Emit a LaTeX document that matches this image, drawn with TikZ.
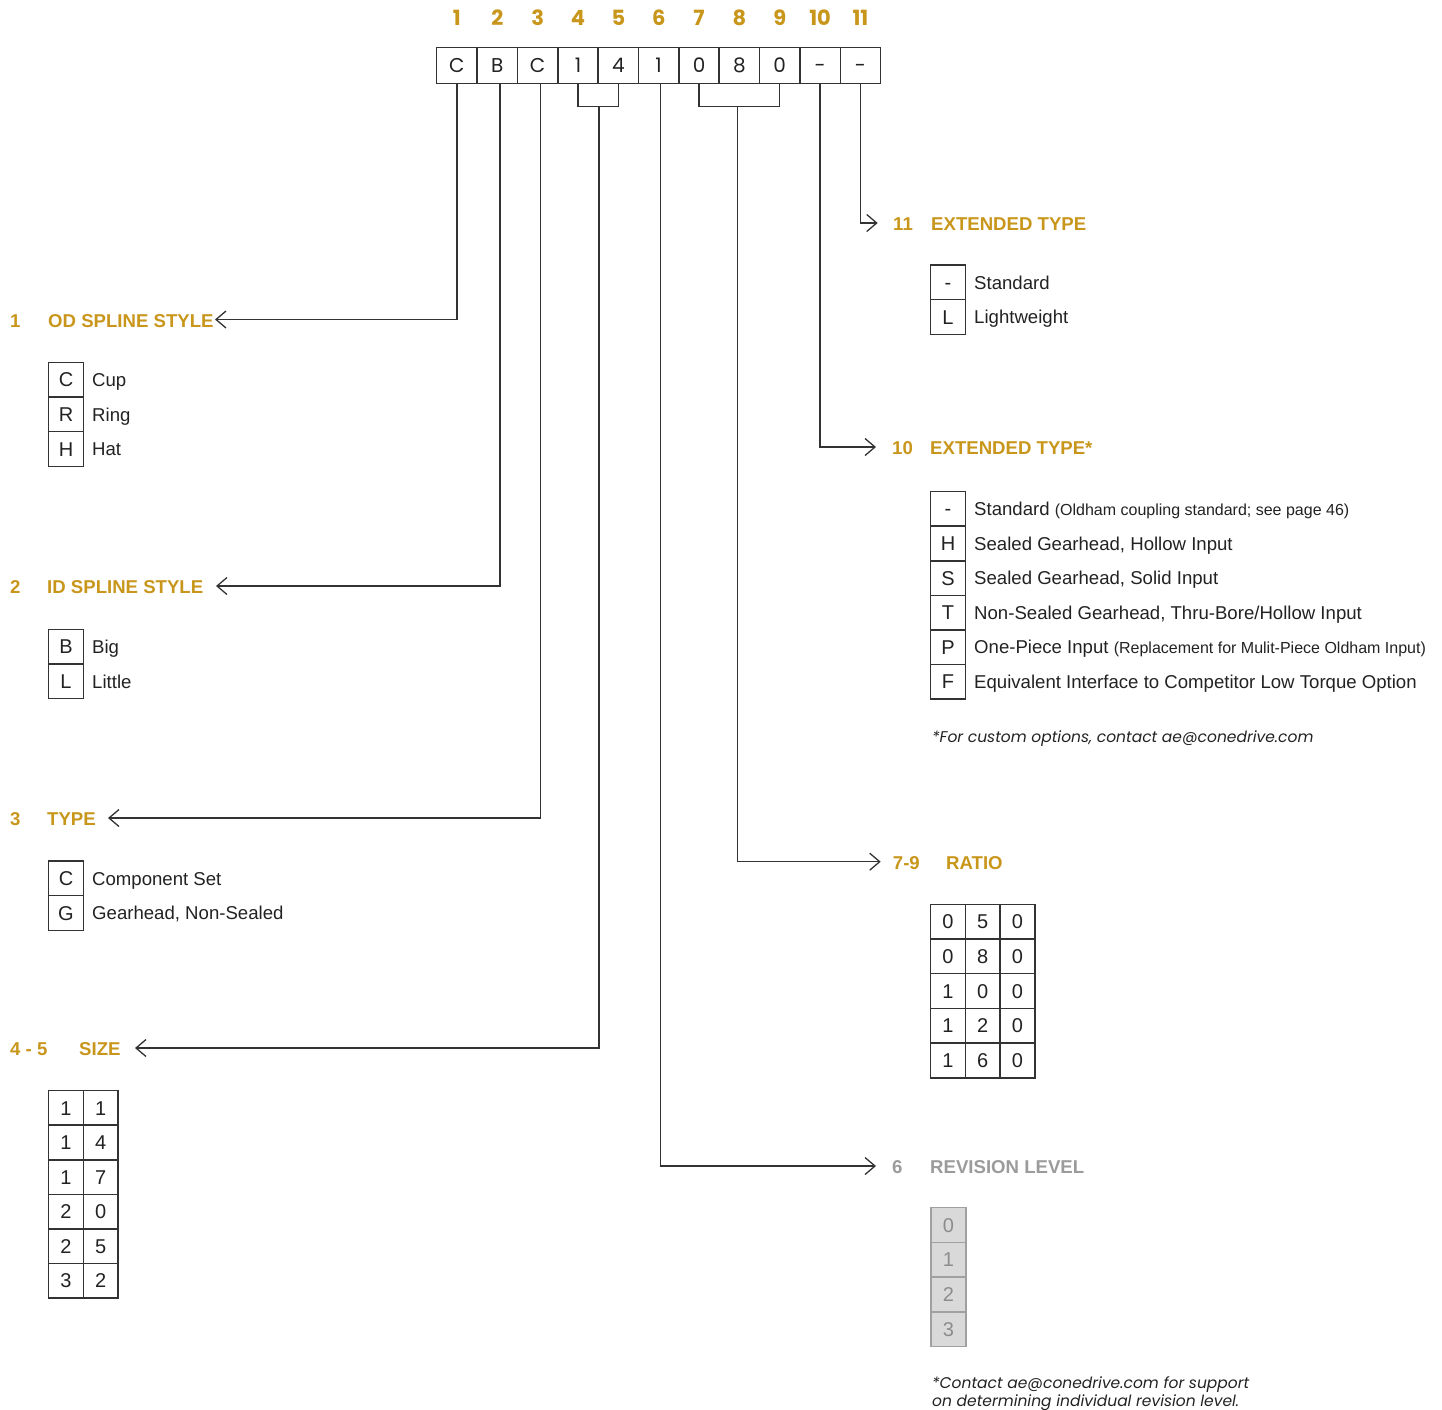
\documentclass[tikz,border=0pt]{standalone}
\usepackage{fontspec}
\setmainfont{Liberation Sans}
\newfontfamily\pop{Poppins}
\usetikzlibrary{arrows.meta}
\definecolor{gold}{RGB}{201,150,28}
\definecolor{ln}{RGB}{51,51,51}
\definecolor{txt}{RGB}{34,34,34}
\definecolor{gr}{RGB}{155,155,155}
\definecolor{grfill}{RGB}{217,217,217}
\definecolor{grline}{RGB}{160,160,160}
\definecolor{grtxt}{RGB}{140,140,140}
\begin{document}
\begin{tikzpicture}[x=1pt,y=-1pt,
  lbl/.style={anchor=base west, inner sep=0pt, font=\fontsize{18.6}{22}\selectfont, text=txt},
  small/.style={anchor=base west, inner sep=0pt, font=\fontsize{16}{20}\selectfont, text=txt},
  head/.style={anchor=base west, inner sep=0pt, font=\fontsize{18.6}{22}\selectfont\bfseries, text=gold},
  ghead/.style={head, text=gr},
  cell/.style={draw=ln, line width=1.5pt, minimum width=34.7pt, minimum height=34.7pt, inner sep=0pt,
    font=\fontsize{20}{22}\selectfont, text=txt, text height=14.3pt, text depth=0pt},
  gcell/.style={cell, draw=grline, fill=grfill, text=grtxt},
  code/.style={draw=ln, line width=1.5pt, minimum width=40.36pt, minimum height=35.6pt, inner sep=0pt,
    font=\pop\fontsize{20}{22}\selectfont, text=txt, text height=14pt, text depth=0pt},
  num/.style={inner sep=0pt, font=\pop\bfseries\fontsize{21}{22}\selectfont, text=gold},
  note/.style={anchor=base west, inner sep=0pt, font=\pop\itshape\fontsize{15.5}{19}\selectfont, text=txt},
  conn/.style={draw=ln, line width=1.3pt},
  arr/.style={conn, -{Straight Barb[length=10pt,width=17pt]}}
]
\useasboundingbox (0,0) rectangle (1442,1409);

% code row
\foreach \L [count=\i] in {C,B,C,1,4,1,0,8,0,-,-} {
  \node[code] (c\i) at ({436.7+40.36*(\i-0.5)},65.5) {\L};
  \node[num] (n\i) at ({436.7+40.36*(\i-0.5)},17.5) {\i};
}

% connector coordinates
\coordinate (a1) at (215,319.5);
\coordinate (a2) at (216,586);
\coordinate (a3) at (108,818);
\coordinate (b45) at (599,106.7);
\coordinate (a45) at (135,1048);
\coordinate (a6) at (876,1166);
\coordinate (b79) at (737.5,106.7);
\coordinate (a79) at (880.7,861.7);
\coordinate (a10) at (876,447);
\coordinate (a11) at (877.7,223);

\draw[arr] (c1.south) |- (a1);
\draw[arr] ([xshift=2.8pt]c2.south) |- (a2);
\draw[arr] ([xshift=2.7pt]c3.south) |- (a3);
\draw[conn] (c4.south) |- (b45) -| (c5.south);
\draw[arr] (b45) |- (a45);
\draw[arr] ([xshift=1.5pt]c6.south) |- (a6);
\draw[conn] (c7.south) |- (b79) -| (c9.south);
\draw[arr] (b79) |- (a79);
\draw[arr] (c10.south) |- (a10);
\draw[arr] (c11.south) |- (a11);

% left headings
\node[head] (h1n) at (10,327) {1};
\node[head] (h1) at (48,327) {OD SPLINE STYLE};
\node[head] (h2n) at (10,593) {2};
\node[head] (h2) at (47,593) {ID SPLINE STYLE};
\node[head] (h3n) at (10,825) {3};
\node[head] (h3) at (47,825) {TYPE};
\node[head] (h45n) at (10,1055) {4 - 5};
\node[head] (h45) at (79,1055) {SIZE};

% right headings
\node[head] (h11n) at (893,230) {11};
\node[head] (h11) at (931,230) {EXTENDED TYPE};
\node[head] (h10n) at (892,454) {10};
\node[head] (h10) at (930,454) {EXTENDED TYPE*};
\node[head] (h79n) at (892.7,869) {7-9};
\node[head] (h79) at (946,869) {RATIO};
\node[ghead] (h6n) at (892,1173) {6};
\node[ghead] (h6) at (930,1173) {REVISION LEVEL};

% OD spline style
\foreach \L/\T [count=\k] in {C/Cup,R/Ring,H/Hat} {
  \node[cell] (od\k) at (66,{362.3+34.7*\k-17.35}) {\L};
  \node[lbl] (odt\k) at (92,{362.3+34.7*\k-17.35+6.7}) {\T};
}
% ID spline style
\foreach \L/\T [count=\k] in {B/Big,L/Little} {
  \node[cell] (id\k) at (66,{629.3+34.7*\k-17.35}) {\L};
  \node[lbl] (idt\k) at (92,{629.3+34.7*\k-17.35+6.7}) {\T};
}
% type
\foreach \L/\T [count=\k] in {C/{Component Set},G/{Gearhead, Non-Sealed}} {
  \node[cell] (ty\k) at (66,{861+34.7*\k-17.35}) {\L};
  \node[lbl] (tyt\k) at (92,{861+34.7*\k-17.35+6.7}) {\T};
}
% size
\foreach \A/\B [count=\k] in {1/1,1/4,1/7,2/0,2/5,3/2} {
  \node[cell] (sa\k) at (66,{1090.7+34.55*\k-17.275}) {\A};
  \node[cell] (sb\k) at (100.7,{1090.7+34.55*\k-17.275}) {\B};
}

% extended type 11
\foreach \L/\T [count=\k] in {-/Standard,L/Lightweight} {
  \node[cell] (e\k) at (948,{265+34.6*\k-17.3}) {\L};
  \node[lbl] (et\k) at (974,{265+34.6*\k-17.3+6.7}) {\T};
}

% extended type 10
\foreach \L [count=\k] in {-,H,S,T,P,F} {
  \node[cell] (x\k) at (948,{491.5+34.6*\k-17.3}) {\L};
}
\node[lbl] (xt1) at (974,515.5) {Standard \fontsize{16}{20}\selectfont(Oldham coupling standard; see page 46)};
\node[lbl] (xt2) at (974,550.1) {Sealed Gearhead, Hollow Input};
\node[lbl] (xt3) at (974,584.7) {Sealed Gearhead, Solid Input};
\node[lbl] (xt4) at (974,619.3) {Non-Sealed Gearhead, Thru-Bore/Hollow Input};
\node[lbl] (xt5) at (974,653.9) {One-Piece Input \fontsize{16}{20}\selectfont(Replacement for Mulit-Piece Oldham Input)};
\node[lbl] (xt6) at (974,688.5) {Equivalent Interface to Competitor Low Torque Option};
\node[note] (xn) at (932,742) {*For custom options, contact ae@conedrive.com};

% ratio
\foreach \A/\B/\C [count=\k] in {0/5/0,0/8/0,1/0/0,1/2/0,1/6/0} {
  \node[cell] (ra\k) at (948,{904.3+34.7*\k-17.35}) {\A};
  \node[cell] (rb\k) at (982.7,{904.3+34.7*\k-17.35}) {\B};
  \node[cell] (rc\k) at (1017.4,{904.3+34.7*\k-17.35}) {\C};
}

% revision level
\foreach \L [count=\k] in {0,1,2,3} {
  \node[gcell] (rv\k) at (948.5,{1207.7+34.75*\k-17.375}) {\L};
}
\node[note] (rn1) at (932,1388) {*Contact ae@conedrive.com for support};
\node[note] (rn2) at (932,1406) {on determining individual revision level.};
\end{tikzpicture}
\end{document}
